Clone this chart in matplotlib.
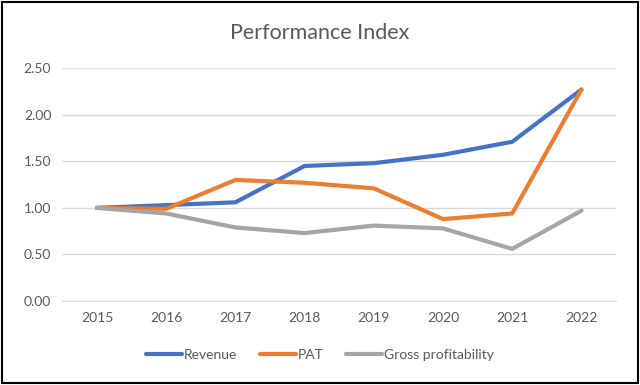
import matplotlib
matplotlib.use('Agg')
import matplotlib.pyplot as plt
from matplotlib.patches import Rectangle

plt.rcParams['font.family'] = ['Lato', 'DejaVu Sans']

years = ['2015', '2016', '2017', '2018', '2019', '2020', '2021', '2022']
revenue = [1.00, 1.03, 1.06, 1.45, 1.48, 1.57, 1.71, 2.27]
pat = [1.00, 0.99, 1.30, 1.27, 1.21, 0.88, 0.94, 2.27]
gross = [1.00, 0.94, 0.79, 0.73, 0.81, 0.78, 0.56, 0.97]

txt = '#595959'

fig = plt.figure(figsize=(6.4, 3.85), dpi=100)
ax = fig.add_axes([0.0975, 0.218, 0.865, 0.605])

x = range(len(years))
ax.plot(x, revenue, color='#4472C4', lw=3, label='Revenue', solid_capstyle='round')
ax.plot(x, pat, color='#ED7D31', lw=3, label='PAT', solid_capstyle='round')
ax.plot(x, gross, color='#A5A5A5', lw=3, label='Gross profitability', solid_capstyle='round')

ax.set_xlim(-0.5, 7.5)
ax.set_ylim(0, 2.5)
ax.set_yticks([0, 0.5, 1.0, 1.5, 2.0, 2.5])
ax.set_yticklabels([f'{v:.2f}' for v in [0, 0.5, 1.0, 1.5, 2.0, 2.5]])
ax.set_xticks(list(x))
ax.set_xticklabels(years)
ax.tick_params(length=0, colors=txt, labelsize=10, pad=8)
ax.grid(axis='y', color='#D9D9D9', lw=1)
ax.set_axisbelow(True)
for s in ax.spines.values():
    s.set_visible(False)
ax.spines['bottom'].set_visible(True)
ax.spines['bottom'].set_color('#D9D9D9')

fig.text(0.5, 0.915, 'Performance Index', ha='center', va='center', fontsize=15.5, color=txt)

leg = fig.legend(loc='center', bbox_to_anchor=(0.5, 0.078), ncol=3, frameon=False,
                 fontsize=10, handlelength=2.6, columnspacing=1.6, handletextpad=0.15)
for t in leg.get_texts():
    t.set_color(txt)

fig.patches.append(Rectangle((0.003, 0.004), 0.994, 0.992, transform=fig.transFigure,
                             fill=False, edgecolor='black', lw=1.5))

fig.savefig('out.png', dpi=100)
